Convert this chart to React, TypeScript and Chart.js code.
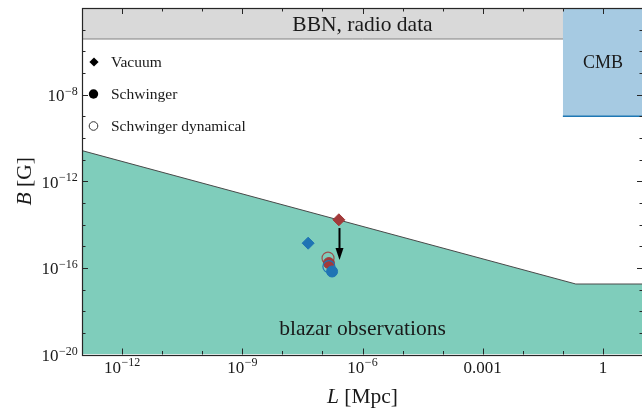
import React, { useEffect, useRef } from "react";
import { Chart, registerables } from "chart.js";

Chart.register(...registerables);

// ---- axes ----
const xMin = 1e-13;
const xMax = 10;
const yMin = 1e-20;
const yMax = 1e-4;
const xTickExps = [-13, -12, -11, -10, -9, -8, -7, -6, -5, -4, -3, -2, -1, 0, 1];
const xMajorExps = [-12, -9, -6, -3, 0];
const xMajorLabels = ["10^−12", "10^−9", "10^−6", "0.001", "1"];
const yTickExps = [-20, -19, -18, -17, -16, -15, -14, -13, -12, -11, -10, -9, -8, -7, -6, -5, -4];
const yMajorExps = [-20, -16, -12, -8];
const yMajorLabels = ["10^−20", "10^−16", "10^−12", "10^−8"];

// ---- regions ----
const blazarL = [1e-13, 0.21, 10];
const blazarB = [2.6e-11, 1.8e-17, 1.8e-17];
const bbnL = [1e-13, 10];
const bbnB = [3.7e-6, 3.7e-6];
const cmbL = [0.1, 10];
const cmbB = [1e-9, 1e-9];

// ---- points: [red, blue] ----
const vacuumL = [2.57e-7, 4.4e-8];
const vacuumB = [1.66e-14, 1.38e-15];
const schwingerL = [1.45e-7, 1.74e-7];
const schwingerB = [1.66e-16, 6.8e-17];
const schwDynL = [1.38e-7, 1.45e-7];
const schwDynB = [2.8e-16, 1.15e-16];
const arrowL = [2.57e-7, 2.57e-7];
const arrowB = [6.9e-15, 2.3e-16];

const legendLabels = ["Vacuum", "Schwinger", "Schwinger dynamical"];
const regionLabels = ["BBN, radio data", "CMB", "blazar observations"];

const RED = "#a23a3a";
const BLUE = "#1f74b4";
const FONT = '"Liberation Serif", "DejaVu Serif", serif';

const xy = (xs: number[], ys: number[]) => xs.map((v, i) => ({ x: v, y: ys[i] }));

const decorPlugin = {
  id: "decor",
  afterDatasetsDraw(chart: any) {
    const { ctx, chartArea: ca, scales } = chart;
    const sx = scales.x;
    const sy = scales.y;
    ctx.save();

    // arrow
    const ax = Math.round(sx.getPixelForValue(arrowL[0])) + 0.5;
    const ay0 = sy.getPixelForValue(arrowB[0]);
    const ay1 = sy.getPixelForValue(arrowB[1]);
    ctx.strokeStyle = "#000";
    ctx.fillStyle = "#000";
    ctx.lineWidth = 2;
    ctx.beginPath();
    ctx.moveTo(ax, ay0);
    ctx.lineTo(ax, ay1 - 9);
    ctx.stroke();
    ctx.beginPath();
    ctx.moveTo(ax - 4, ay1 - 12);
    ctx.lineTo(ax + 4, ay1 - 12);
    ctx.lineTo(ax, ay1);
    ctx.closePath();
    ctx.fill();

    // region labels
    ctx.fillStyle = "#1a1a1a";
    ctx.textAlign = "center";
    ctx.textBaseline = "alphabetic";
    const cx = (ca.left + ca.right) / 2;
    const bbnPix = sy.getPixelForValue(bbnB[0]);
    ctx.font = `21.5px ${FONT}`;
    ctx.fillText(regionLabels[0], cx, (ca.top + bbnPix) / 2 + 7);
    ctx.font = `18px ${FONT}`;
    ctx.fillText(regionLabels[1], sx.getPixelForValue(1), sy.getPixelForValue(Math.pow(10, -6.5)) + 5.5);
    ctx.font = `21.5px ${FONT}`;
    ctx.fillText(regionLabels[2], cx, sy.getPixelForValue(8e-20));

    // inward ticks
    ctx.strokeStyle = "#262626";
    ctx.lineWidth = 1;
    ctx.beginPath();
    xTickExps.forEach((k) => {
      const px = Math.round(sx.getPixelForValue(Math.pow(10, k))) + 0.5;
      const len = xMajorExps.includes(k) ? 6 : 3.5;
      ctx.moveTo(px, ca.bottom);
      ctx.lineTo(px, ca.bottom - len);
      ctx.moveTo(px, ca.top);
      ctx.lineTo(px, ca.top + len);
    });
    yTickExps.forEach((k) => {
      const py = Math.round(sy.getPixelForValue(Math.pow(10, k))) + 0.5;
      const len = yMajorExps.includes(k) ? 6 : 3.5;
      ctx.moveTo(ca.left, py);
      ctx.lineTo(ca.left + len, py);
      ctx.moveTo(ca.right, py);
      ctx.lineTo(ca.right - len, py);
    });
    ctx.stroke();

    // frame
    ctx.lineWidth = 1.2;
    ctx.strokeRect(Math.round(ca.left) + 0.5, Math.round(ca.top) + 0.5, ca.right - ca.left, Math.round(ca.bottom - ca.top));

    // tick labels (10 with superscript exponent)
    const drawPow = (lab: string, x0: number, yBase: number, align: string) => {
      const parts = lab.split("^");
      ctx.font = `17px ${FONT}`;
      const w1 = ctx.measureText(parts[0]).width;
      let w2 = 0;
      if (parts[1]) {
        ctx.font = `12px ${FONT}`;
        w2 = ctx.measureText(parts[1]).width + 0.5;
      }
      const tot = w1 + w2;
      const start = align === "center" ? x0 - tot / 2 : x0 - tot;
      ctx.textAlign = "left";
      ctx.font = `17px ${FONT}`;
      ctx.fillText(parts[0], start, yBase);
      if (parts[1]) {
        ctx.font = `12px ${FONT}`;
        ctx.fillText(parts[1], start + w1 + 0.5, yBase - 6.5);
      }
    };
    ctx.fillStyle = "#1a1a1a";
    ctx.textBaseline = "alphabetic";
    xMajorExps.forEach((k, i) => {
      drawPow(xMajorLabels[i], sx.getPixelForValue(Math.pow(10, k)), ca.bottom + 18.2, "center");
    });
    yMajorExps.forEach((k, i) => {
      drawPow(yMajorLabels[i], ca.left - 4.2, sy.getPixelForValue(Math.pow(10, k)) + 6.6, "right");
    });

    // legend
    const lx = ca.left + 12;
    const tx = ca.left + 29;
    ctx.textAlign = "left";
    legendLabels.forEach((lab, i) => {
      const ly = ca.top + 54 + i * 32;
      ctx.fillStyle = "#000";
      ctx.strokeStyle = "#333";
      ctx.lineWidth = 1;
      ctx.beginPath();
      if (i === 0) {
        const r = 4.6;
        ctx.moveTo(lx - r, ly);
        ctx.lineTo(lx, ly - r);
        ctx.lineTo(lx + r, ly);
        ctx.lineTo(lx, ly + r);
        ctx.closePath();
        ctx.fill();
      } else if (i === 1) {
        ctx.arc(lx - 0.5, ly, 4.7, 0, Math.PI * 2);
        ctx.fill();
      } else {
        ctx.arc(lx - 0.5, ly, 4.3, 0, Math.PI * 2);
        ctx.stroke();
      }
      ctx.fillStyle = "#1a1a1a";
      ctx.font = `15.5px ${FONT}`;
      ctx.fillText(lab, tx, ly + 5);
    });

    // axis titles
    const drawTitle = (v: string, rest: string, x0: number, y0: number) => {
      ctx.font = `italic 21.5px ${FONT}`;
      const w1 = ctx.measureText(v).width;
      ctx.font = `21.5px ${FONT}`;
      const w2 = ctx.measureText(rest).width;
      const start = x0 - (w1 + w2) / 2;
      ctx.textAlign = "left";
      ctx.font = `italic 21.5px ${FONT}`;
      ctx.fillText(v, start, y0);
      ctx.font = `21.5px ${FONT}`;
      ctx.fillText(rest, start + w1, y0);
    };
    ctx.fillStyle = "#1a1a1a";
    drawTitle("L", " [Mpc]", cx, 403);
    ctx.save();
    ctx.translate(31, (ca.top + ca.bottom) / 2);
    ctx.rotate(-Math.PI / 2);
    drawTitle("B", " [G]", 0, 0);
    ctx.restore();

    ctx.restore();
  },
};

const zeroPad = (s: any) => {
  s.paddingLeft = 0;
  s.paddingRight = 0;
  s.paddingTop = 0;
  s.paddingBottom = 0;
};

export default function App() {
  const ref = useRef<HTMLCanvasElement | null>(null);

  useEffect(() => {
    document.body.style.margin = "0";
    const canvas = ref.current;
    if (!canvas) return;
    const regionBase = { type: "line", pointRadius: 0, tension: 0 };
    const chart = new Chart(canvas, {
      type: "scatter",
      data: {
        datasets: [
          { ...regionBase, label: "blazar", data: xy(blazarL, blazarB), fill: "start", backgroundColor: "#7fcdbb", borderColor: "#4a4a4a", borderWidth: 1, order: 30 },
          { ...regionBase, label: "BBN", data: xy(bbnL, bbnB), fill: "end", backgroundColor: "#d9d9d9", borderColor: "#808080", borderWidth: 1, order: 20 },
          { ...regionBase, label: "CMB", data: xy(cmbL, cmbB), fill: "end", backgroundColor: "#a6cae2", borderColor: "#1f78b4", borderWidth: 1.5, order: 15 },
          { label: "Schwinger dynamical (red)", data: xy([schwDynL[0]], [schwDynB[0]]), pointStyle: "circle", pointRadius: 6, backgroundColor: "rgba(0,0,0,0)", borderColor: "rgba(162,58,58,0.85)", borderWidth: 1.2, order: 6 },
          { label: "Schwinger (red)", data: xy([schwingerL[0]], [schwingerB[0]]), pointStyle: "circle", pointRadius: 5.5, backgroundColor: RED, borderColor: RED, borderWidth: 1, order: 5 },
          { label: "Schwinger dynamical (blue)", data: xy([schwDynL[1]], [schwDynB[1]]), pointStyle: "circle", pointRadius: 6, backgroundColor: "rgba(0,0,0,0)", borderColor: BLUE, borderWidth: 1.2, order: 4 },
          { label: "Schwinger (blue)", data: xy([schwingerL[1]], [schwingerB[1]]), pointStyle: "circle", pointRadius: 5.5, backgroundColor: BLUE, borderColor: BLUE, borderWidth: 1, order: 3 },
          { label: "Vacuum (blue)", data: xy([vacuumL[1]], [vacuumB[1]]), pointStyle: "rectRot", pointRadius: 6, backgroundColor: BLUE, borderColor: BLUE, borderWidth: 1, order: 2 },
          { label: "Vacuum (red)", data: xy([vacuumL[0]], [vacuumB[0]]), pointStyle: "rectRot", pointRadius: 6, backgroundColor: RED, borderColor: RED, borderWidth: 1, order: 1 },
        ] as any,
      },
      options: {
        animation: false,
        responsive: false,
        devicePixelRatio: 1,
        events: [],
        layout: { autoPadding: false, padding: { top: 8, right: 3, left: 0, bottom: 0 } },
        plugins: { legend: { display: false }, tooltip: { enabled: false } },
        scales: {
          x: {
            type: "logarithmic",
            position: "bottom",
            min: xMin,
            max: xMax,
            afterBuildTicks: (s: any) => {
              s.ticks = xTickExps.map((k) => ({ value: Math.pow(10, k) }));
            },
            afterFit: (s: any) => {
              s.height = 56.5;
              zeroPad(s);
            },
            ticks: { display: false, autoSkip: false, maxRotation: 0, minRotation: 0 },
            grid: { display: false, drawTicks: false },
            border: { display: false },
          },
          y: {
            type: "logarithmic",
            position: "left",
            min: yMin,
            max: yMax,
            afterBuildTicks: (s: any) => {
              s.ticks = yTickExps.map((k) => ({ value: Math.pow(10, k) }));
            },
            afterFit: (s: any) => {
              s.width = 82;
              zeroPad(s);
            },
            ticks: { display: false, autoSkip: false },
            grid: { display: false, drawTicks: false },
            border: { display: false },
          },
        },
      } as any,
      plugins: [decorPlugin],
    });
    return () => chart.destroy();
  }, []);

  return (
    <div style={{ width: 642, height: 411, overflow: "hidden", position: "relative" }}>
      <canvas ref={ref} width={646} height={411} style={{ display: "block", width: 646, height: 411 }} />
    </div>
  );
}
